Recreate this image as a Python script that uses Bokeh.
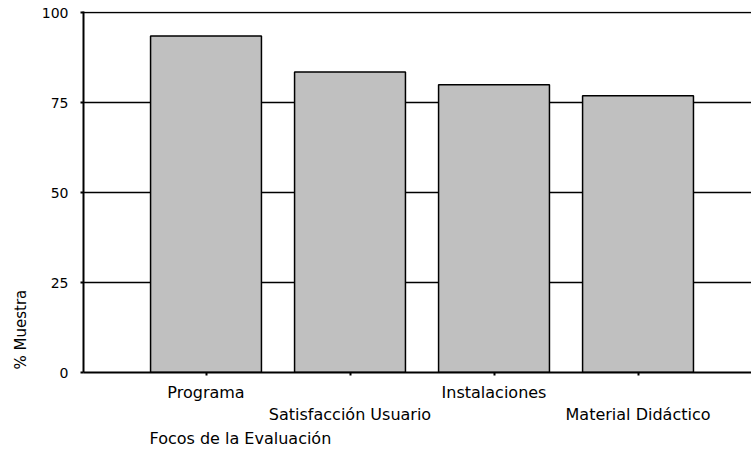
from bokeh.plotting import figure
from bokeh.models import Range1d, FixedTicker, LinearAxis, Title
from bokeh.embed import file_html
from bokeh.resources import INLINE

categories = ["Programa", "Satisfacción Usuario", "Instalaciones", "Material Didáctico"]
values = [93.5, 83.5, 79.9, 76.9]
y_ticks = [0, 25, 50, 75, 100]
x_title = "Focos de la Evaluación"
y_title = "% Muestra"

FONT = "DejaVu Sans"
xs = list(range(1, len(categories) + 1))

p = figure(frame_width=668, frame_height=361, output_backend="svg", toolbar_location=None,
           x_range=Range1d(0.1493, 4.788), y_range=Range1d(0, 100.28),
           min_border_left=83, min_border_right=0, min_border_top=11, min_border_bottom=0)
p.outline_line_color = None
p.background_fill_color = "white"
p.border_fill_color = "white"

# grid
p.xgrid.visible = False
p.ygrid.ticker = FixedTicker(ticks=[25, 50, 75, 100])
p.ygrid.grid_line_color = "black"
p.ygrid.grid_line_width = 1.3

p.vbar(x=xs, top=values, width=0.77, bottom=0, fill_color="#C0C0C0",
       line_color="black", line_width=1.5)

# y axis
p.yaxis.ticker = FixedTicker(ticks=y_ticks)
p.yaxis.axis_line_color = "black"
p.yaxis.axis_line_width = 2
p.yaxis.major_tick_out = 3
p.yaxis.major_tick_in = 0
p.yaxis.major_tick_line_width = 2
p.yaxis.minor_tick_line_color = None
p.yaxis.major_label_standoff = 12
p.yaxis.major_label_text_font = FONT
p.yaxis.major_label_text_font_size = "14px"
p.yaxis.major_label_text_color = "black"

# x axis (first row of staggered labels)
p.xaxis.ticker = FixedTicker(ticks=xs)
p.xaxis.axis_line_color = "black"
p.xaxis.axis_line_width = 2
p.xaxis.major_tick_out = 3
p.xaxis.major_tick_in = 0
p.xaxis.major_tick_line_width = 2
p.xaxis.minor_tick_line_color = None
p.xaxis.major_label_standoff = 7
p.xaxis.major_label_text_font = FONT
p.xaxis.major_label_text_font_size = "16px"
p.xaxis.major_label_text_color = "black"
p.xaxis.major_label_overrides = {x: (c if i % 2 == 0 else " ")
                                 for i, (x, c) in enumerate(zip(xs, categories))}

# second row of staggered labels
ax2 = LinearAxis(ticker=FixedTicker(ticks=xs))
ax2.axis_line_color = None
ax2.major_tick_line_color = None
ax2.minor_tick_line_color = None
ax2.major_tick_out = 0
ax2.major_tick_in = 0
ax2.major_label_standoff = 0
ax2.major_label_text_font = FONT
ax2.major_label_text_font_size = "16px"
ax2.major_label_text_color = "black"
ax2.major_label_overrides = {x: (c if i % 2 == 1 else " ")
                             for i, (x, c) in enumerate(zip(xs, categories))}
p.add_layout(ax2, "below")

# titles
p.add_layout(Title(text=x_title, align="left", offset=66, standoff=0,
                   text_font=FONT, text_font_size="16px", text_font_style="normal",
                   text_color="black"), "below")
p.add_layout(Title(text=y_title, align="left", offset=3, standoff=17,
                   text_font=FONT, text_font_size="15px", text_font_style="normal",
                   text_color="black"), "left")

open("out.html", "w").write(file_html(p, INLINE))
